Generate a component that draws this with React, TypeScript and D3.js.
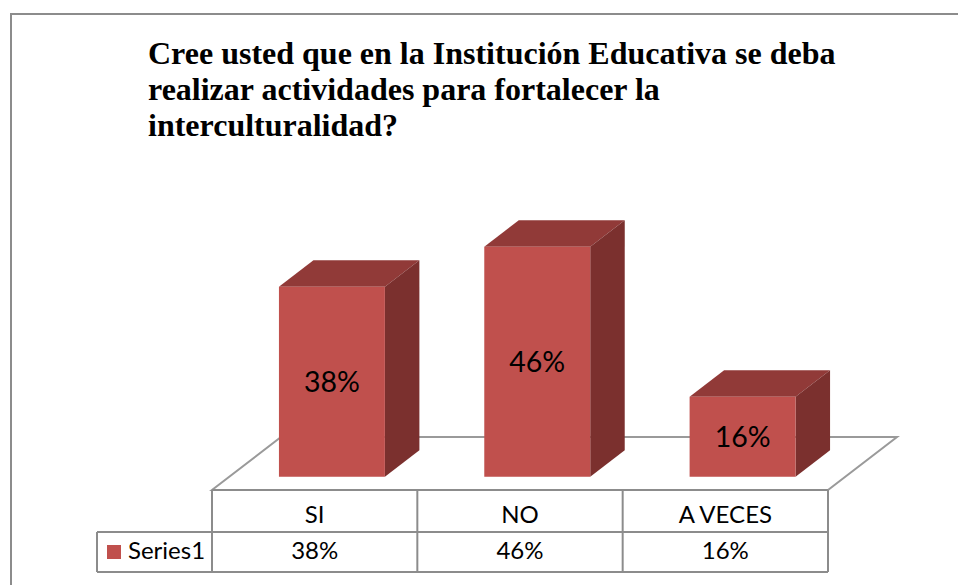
import React, { useEffect, useRef } from "react";
import * as d3 from "d3";

const categories = ["SI", "NO", "A VECES"];
const values = [0.38, 0.46, 0.16];
const seriesName = "Series1";
const titleLines = [
  "Cree usted que en la Institución Educativa se deba",
  "realizar actividades para fortalecer la",
  "interculturalidad?",
];

const width = 958;
const height = 585;

const App = () => {
  const svgRef = useRef(null);

  useEffect(() => {
    document.body.style.margin = "0";
    const svg = d3.select(svgRef.current);
    svg.selectAll("*").remove();

    const fmt = d3.format(".0%");
    const font = "Lato, 'Open Sans', sans-serif";
    const grid = "#8c8c8c";

    // floor front edge / table columns
    const x = d3.scaleBand().domain(categories).range([212, 828]);
    const floorY = 490;
    const floorDx = 69;
    const floorDy = 53;

    // bars sit in the middle half of the floor depth
    const offX = floorDx * 0.25;
    const offY = floorDy * 0.25;
    const depX = floorDx * 0.5;
    const depY = floorDy * 0.5;

    const y = d3
      .scaleLinear()
      .domain([0, 0.5])
      .range([floorY - offY, floorY - offY - 250]);

    const barW = x.bandwidth() * 0.516;

    // outer frame
    svg
      .append("path")
      .attr("d", `M11,${height} V14 H${width}`)
      .attr("fill", "none")
      .attr("stroke", grid)
      .attr("stroke-width", 2);

    // title
    svg
      .append("g")
      .selectAll("text")
      .data(titleLines)
      .enter()
      .append("text")
      .attr("x", 148)
      .attr("y", (d, i) => 64 + i * 36)
      .attr(
        "font-family",
        "'Liberation Serif', Tinos, 'Times New Roman', 'DejaVu Serif', 'Noto Serif', serif"
      )
      .attr("font-weight", "bold")
      .attr("font-size", 32)
      .text((d) => d);

    // floor
    const x0 = x.range()[0];
    const x1 = x.range()[1];
    svg
      .append("path")
      .attr(
        "d",
        `M${x0},${floorY} L${x1},${floorY} L${x1 + floorDx},${floorY - floorDy} L${x0 + floorDx},${floorY - floorDy} Z`
      )
      .attr("fill", "white")
      .attr("stroke", "#9a9a9a")
      .attr("stroke-width", 2);

    // 3d bars
    const bars = svg
      .append("g")
      .selectAll("g")
      .data(categories.map((c, i) => ({ c, v: values[i] })))
      .enter()
      .append("g");

    const left = (d) => x(d.c) + x.bandwidth() / 2 + offX - barW / 2;
    const right = (d) => left(d) + barW;
    const base = y(0);

    // top face
    bars
      .append("path")
      .attr("fill", "#913a38")
      .attr(
        "d",
        (d) =>
          `M${left(d)},${y(d.v)} L${left(d) + depX},${y(d.v) - depY} L${right(d) + depX},${y(d.v) - depY} L${right(d)},${y(d.v)} Z`
      );

    // side face
    bars
      .append("path")
      .attr("fill", "#7b302e")
      .attr(
        "d",
        (d) =>
          `M${right(d)},${y(d.v)} L${right(d) + depX},${y(d.v) - depY} L${right(d) + depX},${base - depY} L${right(d)},${base} Z`
      );

    // front face
    bars
      .append("rect")
      .attr("x", left)
      .attr("y", (d) => y(d.v))
      .attr("width", barW)
      .attr("height", (d) => base - y(d.v))
      .attr("fill", "#c0504d");

    bars
      .append("text")
      .attr("x", (d) => left(d) + barW / 2)
      .attr("y", (d) => (y(d.v) + base) / 2)
      .attr("dy", "0.36em")
      .attr("text-anchor", "middle")
      .style("font-family", font)
      .style("font-size", "28.5px")
      .text((d) => fmt(d.v));

    // data table
    const rowTop = floorY;
    const rowMid = 532;
    const rowBot = 572;
    const tableLeft = 97;
    const t = svg.append("g").attr("stroke", grid).attr("stroke-width", 2);

    t.append("line")
      .attr("x1", x0)
      .attr("x2", x1)
      .attr("y1", rowTop)
      .attr("y2", rowTop);
    [rowMid, rowBot].forEach((ry) =>
      t
        .append("line")
        .attr("x1", tableLeft)
        .attr("x2", x1)
        .attr("y1", ry)
        .attr("y2", ry)
    );
    t.append("line")
      .attr("x1", tableLeft)
      .attr("x2", tableLeft)
      .attr("y1", rowMid)
      .attr("y2", rowBot);
    [...categories.map((c) => x(c)), x1].forEach((cx) =>
      t
        .append("line")
        .attr("x1", cx)
        .attr("x2", cx)
        .attr("y1", rowTop)
        .attr("y2", rowBot)
    );

    const cells = svg.append("g").style("font-family", font).style("font-size", "24px");
    cells
      .selectAll("text.h")
      .data(categories)
      .enter()
      .append("text")
      .attr("class", "h")
      .attr("x", (d) => x(d) + x.bandwidth() / 2)
      .attr("y", 523)
      .attr("text-anchor", "middle")
      .text((d) => d);
    cells
      .selectAll("text.v")
      .data(categories.map((c, i) => ({ c, v: values[i] })))
      .enter()
      .append("text")
      .attr("class", "v")
      .attr("x", (d) => x(d.c) + x.bandwidth() / 2)
      .attr("y", 559)
      .attr("text-anchor", "middle")
      .text((d) => fmt(d.v));

    // legend key
    svg
      .append("rect")
      .attr("x", 107)
      .attr("y", 545)
      .attr("width", 14)
      .attr("height", 14)
      .attr("fill", "#c0504d");
    cells.append("text").attr("x", 128).attr("y", 559).text(seriesName);
  }, []);

  return <svg width={width} height={height} ref={svgRef}></svg>;
};

export default App;
